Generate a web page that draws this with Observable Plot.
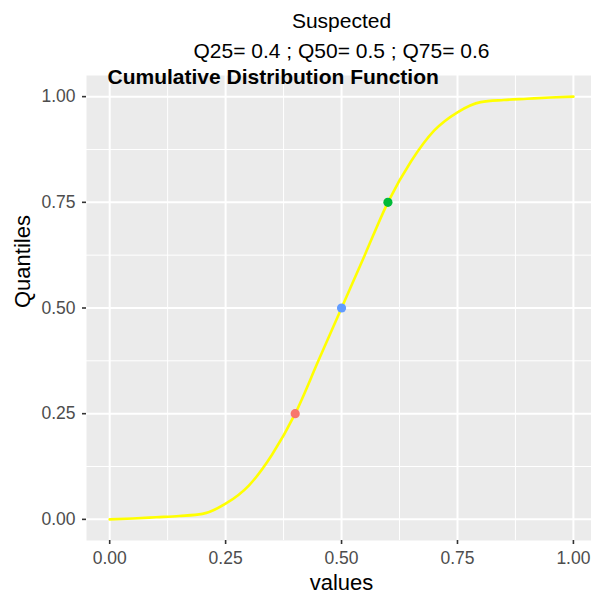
<!DOCTYPE html>
<html>
<head>
<meta charset="utf-8">
<script src="https://cdn.jsdelivr.net/npm/d3@7"></script>
<script src="https://cdn.jsdelivr.net/npm/@observablehq/plot@0.6"></script>
<style>
  body { margin: 0; background: #ffffff; overflow: hidden; }
  svg { display: block; }
</style>
</head>
<body>
<div id="chart"></div>
<script>
// Empirical CDF of the suspected sample
const cdfValues = [0, 0.05, 0.1, 0.15, 0.2, 0.25, 0.3, 0.35, 0.4, 0.45, 0.5, 0.55, 0.6, 0.65, 0.7, 0.75, 0.8, 0.85, 0.9, 0.95, 1.0];
const cdfProb   = [0, 0.002, 0.005, 0.008, 0.013, 0.037, 0.08, 0.153, 0.25, 0.375, 0.5, 0.625, 0.75, 0.847, 0.92, 0.963, 0.987, 0.992, 0.995, 0.998, 1.0];

// Quartiles highlighted on the curve
const quantileValues = [0.4, 0.5, 0.6];
const quantileProb = [0.25, 0.5, 0.75];
const quantileColors = ["#F8766D", "#619CFF", "#00BA38"];

// Axis breaks
const majorTicks = [0, 0.25, 0.5, 0.75, 1];
const minorTicks = [0.125, 0.375, 0.625, 0.875];

// Text
const titleText = "Suspected";
const subtitleText = "Q25= 0.4 ; Q50= 0.5 ; Q75= 0.6";
const headingText = "Cumulative Distribution Function";
const xLabel = "values";
const yLabel = "Quantiles";

const curve = cdfValues.map((v, i) => ({value: v, prob: cdfProb[i]}));
const quartiles = quantileValues.map((v, i) => ({value: v, prob: quantileProb[i], color: quantileColors[i]}));

const font = "'Liberation Sans', Arial, Helvetica, sans-serif";

const chart = Plot.plot({
  width: 591,
  height: 597,
  marginLeft: 86,
  marginRight: 0,
  marginTop: 75,
  marginBottom: 57,
  style: {fontFamily: font, background: "#ffffff"},
  x: {domain: [-0.05, 1.039]},
  y: {domain: [-0.05, 1.05]},
  color: {type: "identity"},
  marks: [
    Plot.frame({fill: "#EBEBEB", stroke: "none"}),
    Plot.gridX(minorTicks, {stroke: "#ffffff", strokeOpacity: 1, strokeWidth: 1}),
    Plot.gridY(minorTicks, {stroke: "#ffffff", strokeOpacity: 1, strokeWidth: 1}),
    Plot.gridX(majorTicks, {stroke: "#ffffff", strokeOpacity: 1, strokeWidth: 2}),
    Plot.gridY(majorTicks, {stroke: "#ffffff", strokeOpacity: 1, strokeWidth: 2}),
    Plot.axisX({ticks: majorTicks, tickFormat: d3.format(".2f"), tickSize: 4, tickPadding: 7,
      fontSize: 17.5, fill: "#4D4D4D", stroke: "#333333", strokeWidth: 1.6, label: null}),
    Plot.axisY({ticks: majorTicks, tickFormat: d3.format(".2f"), tickSize: 4, tickPadding: 7,
      fontSize: 17.5, fill: "#4D4D4D", stroke: "#333333", strokeWidth: 1.6, label: null}),
    Plot.line(curve, {x: "value", y: "prob", stroke: "#FFFF00", strokeWidth: 2.6, curve: "monotone-x"}),
    Plot.dot(quartiles, {x: "value", y: "prob", fill: "color", r: 4.6, stroke: null}),
    // Titles above the panel
    Plot.text([titleText], {frameAnchor: "top", dx: 2.5, dy: -48, lineAnchor: "bottom",
      fontSize: 21, fill: "#000000"}),
    Plot.text([subtitleText], {frameAnchor: "top", dx: 2.5, dy: -18, lineAnchor: "bottom",
      fontSize: 21, fill: "#000000"}),
    Plot.text([headingText], {frameAnchor: "top-left", dx: 21, dy: 8, lineAnchor: "bottom",
      textAnchor: "start", fontSize: 21, fontWeight: "bold", fill: "#000000"}),
    // Axis titles
    Plot.text([xLabel], {frameAnchor: "bottom", dx: 2.5, dy: 49, lineAnchor: "bottom",
      fontSize: 22, fill: "#000000"}),
    Plot.text([yLabel], {frameAnchor: "left", dx: -64, rotate: -90,
      fontSize: 22, fill: "#000000"})
  ]
});

document.getElementById("chart").appendChild(chart);
</script>
</body>
</html>
